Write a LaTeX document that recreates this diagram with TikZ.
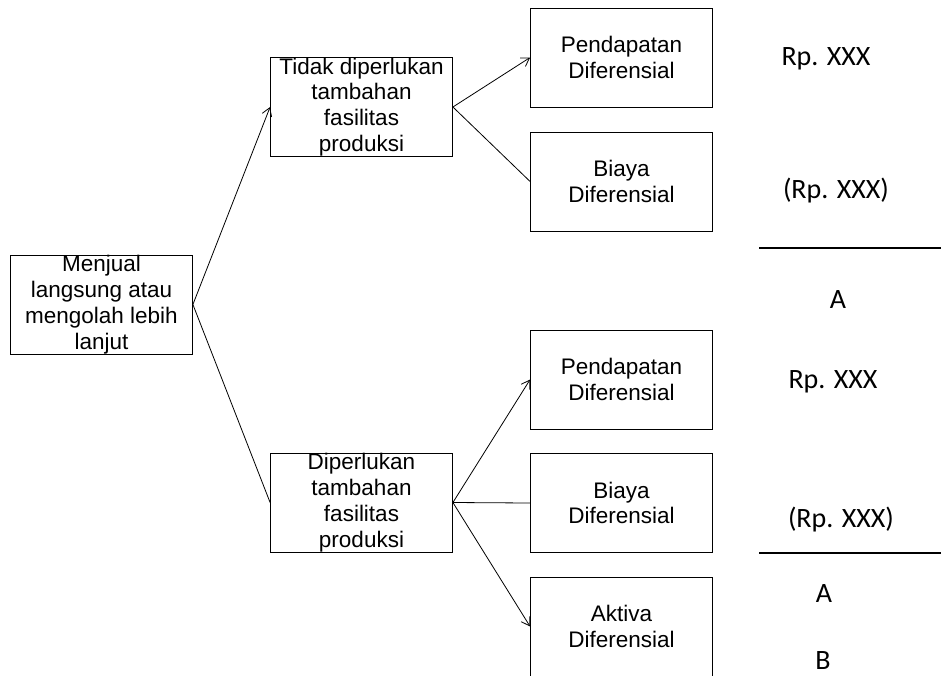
\documentclass[tikz,border=0pt]{standalone}
\usepackage{fontspec}
\setmainfont{Liberation Sans}
\newfontfamily\calibri{Carlito}
\usetikzlibrary{arrows.meta}
\tikzset{
  kotak/.style={draw, line width=0.8pt, minimum width=182pt, minimum height=99pt,
    inner sep=0pt, align=center, font=\fontsize{22.5}{25.8}\selectfont},
  nilai/.style={anchor=base, inner sep=0pt, font=\calibri\fontsize{28}{30}\selectfont},
  panah/.style={line width=0.8pt, -{Straight Barb[length=8pt,width=10pt]}},
  garis/.style={line width=0.8pt},
}
\newcommand{\kotak}[4]{\node[kotak] (#1) at ( #2 , #3 ) {#4};}
\newcommand{\nilai}[4]{\node[nilai] (#1) at ( #2 , #3 ) {#4};}
\begin{document}
\begin{tikzpicture}[x=1pt,y=-1pt]
        \useasboundingbox (0,0) rectangle (941,675);
        % decision
        \kotak{jual}{101.5}{304.5}{Menjual\\langsung atau\\mengolah lebih\\lanjut}
        % alternative 1
        \kotak{tidak}{361.5}{107}{Tidak diperlukan\\tambahan\\fasilitas\\produksi}
        \kotak{pdA}{621.5}{57.5}{Pendapatan\\Diferensial}
        \kotak{bdA}{621.5}{181.5}{Biaya\\Diferensial}
        % alternative 2
        \kotak{perlu}{361.5}{502.5}{Diperlukan\\tambahan\\fasilitas\\produksi}
        \kotak{pdB}{621.5}{379.5}{Pendapatan\\Diferensial}
        \kotak{bdB}{621.5}{503}{Biaya\\Diferensial}
        \kotak{adB}{621.5}{626.5}{Aktiva\\Diferensial}
        % values alternative 1
        \nilai{rpA}{826}{65}{Rp. XXX}
        \nilai{rpbA}{836}{198}{(Rp. XXX)}
        \nilai{hasilA}{838}{308}{A}
        % values alternative 2
        \nilai{rpB}{833}{388}{Rp. XXX}
        \nilai{rpbB}{841}{527}{(Rp. XXX)}
        \nilai{hasilB}{824}{602}{A}
        \nilai{aktB}{823}{669}{B}
        % totals
        \draw[line width=1.6pt] (759,248) -- (941,248);
        \draw[line width=1.6pt] (759,553) -- (941,553);
        % connectors
        \draw[panah] (jual.east) -- (tidak.west);
        \draw[garis] (jual.east) -- (perlu.west);
        \draw[panah] (tidak.east) -- (pdA.west);
        \draw[garis] (tidak.east) -- (bdA.west);
        \draw[panah] (perlu.east) -- (pdB.west);
        \draw[garis] (perlu.east) -- (bdB.west);
        \draw[panah] (perlu.east) -- (adB.west);
\end{tikzpicture}
\end{document}
